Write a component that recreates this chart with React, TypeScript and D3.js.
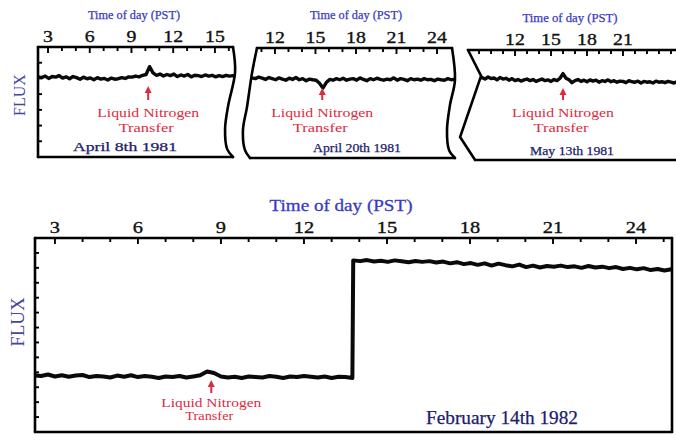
import React from 'react';
import * as d3 from 'd3';

const WIDTH = 676;
const HEIGHT = 441;
const FONT = '"Liberation Serif", "Times New Roman", serif';
const BLUE = '#3a3ac4';
const SLATE = '#45459a';
const NAVY = '#20206a';
const RED = '#dc2a40';

// one reading every quarter hour
const STEP = 0.25;

// April 8th 1981
const april8Start = 2.3;
const april8Flux = [
  5.1, 5.05, 5.15, 5.0, 5.12, 5.08, 5.18, 5.02, 5.1, 4.98,
  5.12, 5.05, 4.95, 5.08, 4.98, 5.03, 4.92, 5.05, 4.96, 5.0,
  4.9, 5.02, 4.95, 4.98, 5.05, 5.0, 5.1, 5.08, 5.15, 5.1,
  5.2, 5.25, 5.75, 5.35, 5.2, 5.28, 5.15, 5.25, 5.18, 5.28,
  5.12, 5.22, 5.15, 5.25, 5.1, 5.2, 5.18, 5.12, 5.22, 5.15,
  5.2, 5.1, 5.18, 5.12, 5.2, 5.15, 5.18, 5.15,
];

// April 20th 1981
const april20Start = 10.3;
const april20Flux = [
  5.1, 5.05, 5.15, 5.08, 5.0, 5.12, 5.05, 4.98, 5.1, 5.02,
  4.95, 5.08, 5.0, 5.12, 4.98, 5.05, 4.92, 5.02, 4.98, 4.95,
  4.75, 4.45, 4.8, 5.0, 4.95, 5.05, 4.98, 5.08, 4.95, 5.02,
  5.05, 4.95, 5.1, 5.0, 4.92, 5.05, 4.98, 5.08, 5.0, 4.95,
  5.02, 4.98, 5.1, 4.95, 5.05, 5.0, 4.92, 5.05, 4.98, 5.02,
  4.95, 5.05, 4.98, 5.0, 4.92, 5.02, 4.98, 4.95, 5.05, 4.98,
  5.0,
];

// May 13th 1981
const may13Start = 9.0;
const may13Flux = [
  5.2, 5.25, 5.15, 5.28, 5.18, 5.22, 5.1, 5.25, 5.15, 5.2,
  5.08, 5.18, 5.05, 5.12, 5.02, 5.1, 5.15, 5.05, 5.12, 5.0,
  5.08, 5.15, 5.05, 5.1, 5.0, 5.12, 5.05, 5.2, 5.5, 5.2,
  5.1, 4.92, 5.05, 5.12, 5.0, 5.08, 4.98, 5.1, 5.02, 5.08,
  4.95, 5.05, 5.0, 5.1, 4.98, 5.05, 4.95, 5.02, 5.0, 4.92,
  5.05, 4.98, 4.95, 5.02, 4.9, 5.0, 4.95, 4.98, 4.9, 5.02,
  4.95, 4.98, 4.92, 5.0, 4.95, 4.9, 4.98,
];

// February 14th 1982 - before and after the jump
const feb14Start = 2.25;
const feb14LowFlux = [
  3.8, 3.75, 3.85, 3.72, 3.8, 3.7, 3.78, 3.82, 3.68, 3.75,
  3.72, 3.65, 3.78, 3.7, 3.8, 3.68, 3.75, 3.7, 3.62, 3.72,
  3.68, 3.75, 3.65, 3.72, 3.8, 4.05, 3.95, 3.72, 3.65, 3.7,
  3.62, 3.72, 3.68, 3.65, 3.75, 3.7, 3.62, 3.72, 3.68, 3.75,
  3.7, 3.65, 3.72, 3.62, 3.7, 3.68, 3.62,
];
const feb14JumpHour = 13.78;
const feb14HighFlux = [
  11.5, 11.45, 11.52, 11.42, 11.48, 11.4, 11.5, 11.44, 11.38, 11.46,
  11.4, 11.45, 11.36, 11.42, 11.3, 11.38, 11.25, 11.32, 11.2, 11.3,
  11.15, 11.28, 11.18, 11.1, 11.22, 11.05, 11.15, 11.02, 11.12, 11.08,
  11.15, 11.05, 11.1, 11.0, 11.12, 11.02, 11.08, 10.98, 11.05, 10.92,
  11.0, 10.9, 10.98, 10.85, 10.92, 10.82, 10.9, 10.85,
];

// labelled hours on each time axis
const april8Hours = [3, 6, 9, 12, 15];
const april20Hours = [12, 15, 18, 21, 24];
const may13Hours = [12, 15, 18, 21];
const feb14Hours = [3, 6, 9, 12, 15, 18, 21, 24];

// hour of the liquid nitrogen transfer
const april8Transfer = 10.2;
const april20Transfer = 15.5;
const may13Transfer = 16.0;
const feb14Transfer = 8.65;

// torn paper edges, [hour, flux] from top to bottom
type Pt = [number, number];
const april8LeftEdge: Pt[] = [[2.28, 7], [2.28, 0]];
const april8RightEdge: Pt[] = [[16.3, 7], [16.45, 5.4], [15.95, 3.25], [15.73, 1.78], [15.88, 0.5], [16.3, 0]];
const april20LeftEdge: Pt[] = [[10.67, 7], [10.3, 5.4], [9.93, 3.25], [9.63, 1.78], [9.78, 0.5], [10.15, 0]];
const april20RightEdge: Pt[] = [[25.11, 7], [25.33, 4.96], [24.96, 3.37], [24.74, 1.78], [24.89, 0.5], [25.33, 0]];
const may13LeftEdge: Pt[] = [[8.08, 7], [9.17, 5.35], [7.42, 1.46], [8.67, 0]];
const may13RightEdge: Pt[] = [[25.7, 7], [25.7, 0]];
const feb14LeftEdge: Pt[] = [[2.28, 13], [2.28, 0]];
const feb14RightEdge: Pt[] = [[25.3, 13], [25.3, 0]];

const series = (start: number, flux: number[]): Pt[] =>
  flux.map((f, i) => [start + i * STEP, f] as Pt);

const panels = [
  {
    id: 'apr8',
    domain: [2.28, 16.3], range: [38, 233], fluxMax: 7, yRange: [157, 47],
    left: april8LeftEdge, right: april8RightEdge, leftCurve: false, rightCurve: true,
    trace: series(april8Start, april8Flux),
    hours: april8Hours, transfer: april8Transfer, arrow: [3.63, 4.52],
    yTicks: [1, 2, 3, 4, 5, 6],
    title: { x: 134, y: 19, len: 92 },
    date: { text: 'April 8th 1981', x: 125, y: 151, len: 104 },
    big: false,
  },
  {
    id: 'apr20',
    domain: [10.67, 25.11], range: [257, 452], fluxMax: 7, yRange: [158, 48],
    left: april20LeftEdge, right: april20RightEdge, leftCurve: true, rightCurve: true,
    trace: series(april20Start, april20Flux),
    hours: april20Hours, transfer: april20Transfer, arrow: [3.69, 4.45],
    yTicks: [] as number[],
    title: { x: 356, y: 19, len: 92 },
    date: { text: 'April 20th 1981', x: 357, y: 152, len: 88 },
    big: false,
  },
  {
    id: 'may13',
    domain: [8.08, 25.42], range: [468, 676], fluxMax: 7, yRange: [160, 50],
    left: may13LeftEdge, right: may13RightEdge, leftCurve: false, rightCurve: false,
    trace: series(may13Start, may13Flux),
    hours: may13Hours, transfer: may13Transfer, arrow: [3.82, 4.58],
    yTicks: [] as number[],
    title: { x: 570, y: 22, len: 95 },
    date: { text: 'May 13th 1981', x: 572, y: 155, len: 84 },
    big: false,
  },
  {
    id: 'feb14',
    domain: [2.28, 25.3], range: [35, 672], fluxMax: 13, yRange: [432, 238],
    left: feb14LeftEdge, right: feb14RightEdge, leftCurve: false, rightCurve: false,
    trace: [...series(feb14Start, feb14LowFlux), ...series(feb14JumpHour, feb14HighFlux)],
    hours: feb14Hours, transfer: feb14Transfer, arrow: [2.61, 3.49],
    yTicks: [1, 2, 3, 4, 5, 6, 7, 8, 9, 10, 11, 12],
    title: { x: 341, y: 211, len: 143 },
    date: { text: 'February 14th 1982', x: 502, y: 424, len: 152 },
    big: true,
  },
];

type PanelDef = (typeof panels)[number];

function Panel({ p }: { p: PanelDef }) {
  const x = d3.scaleLinear().domain(p.domain).range(p.range);
  const y = d3.scaleLinear().domain([0, p.fluxMax]).range(p.yRange);
  const px = (d: Pt) => x(d[0]);
  const py = (d: Pt) => y(d[1]);

  const edgeLine = (curved: boolean) =>
    d3.line<Pt>().x(px).y(py).curve(curved ? d3.curveCatmullRom.alpha(0.5) : d3.curveLinear);

  const outline = [...p.left, ...p.right.slice().reverse()];
  const clip = d3.line<Pt>().x(px).y(py)(outline) + 'Z';
  const top = y(p.fluxMax);
  const bottom = y(0);
  const x0 = x(p.left[0][0]);
  const x1 = x(p.right[0][0]);
  const xb0 = x(p.left[p.left.length - 1][0]);
  const xb1 = x(p.right[p.right.length - 1][0]);

  const trace = d3.line<Pt>().x(px).y(py)(p.trace) || '';

  const hourTicks = d3.range(Math.ceil(p.domain[0]), Math.floor(p.domain[1]) + 1)
    .filter((h) => x(h) > x0 + 3 && x(h) < x1 - 3);

  const tickSize = p.big ? 17 : 16.5;
  const ax = x(p.transfer);
  const aBase = y(p.arrow[0]);
  const aTip = y(p.arrow[1]);
  const lnSize = p.big ? 11.5 : 12;
  const lnGap1 = p.big ? 14 : 17;
  const lnGap2 = p.big ? 27 : 32;

  return (
    <g>
      <defs>
        <clipPath id={`clip-${p.id}`}>
          <path d={clip} />
        </clipPath>
      </defs>

      {/* trace */}
      <path
        d={trace}
        clipPath={`url(#clip-${p.id})`}
        fill="none"
        stroke="#0a0a0a"
        strokeWidth={p.big ? 4 : 3.4}
        strokeLinejoin="round"
      />

      {/* frame */}
      <g fill="none" stroke="#000" strokeWidth={2.6} strokeLinecap="round">
        <line x1={x0} x2={x1} y1={top} y2={top} />
        <line x1={xb0} x2={xb1} y1={bottom} y2={bottom} />
        <path d={edgeLine(p.leftCurve)(p.left) || ''} />
        <path d={edgeLine(p.rightCurve)(p.right) || ''} />
      </g>

      {/* hour ticks */}
      <g stroke="#000" strokeWidth={1.9}>
        {hourTicks.map((h) => (
          <line key={h} x1={x(h)} x2={x(h)} y1={top} y2={top + (p.hours.includes(h) ? 6 : 4)} />
        ))}
        {p.yTicks.map((f) => (
          <line key={'y' + f} x1={x0} x2={x0 + 4} y1={y(f)} y2={y(f)} />
        ))}
      </g>
      {p.hours.map((h) => (
        <text
          key={h}
          x={x(h)}
          y={top - 5}
          textAnchor="middle"
          fontFamily={FONT}
          fontSize={tickSize}
          fill="#111"
          stroke="#111"
          strokeWidth={0.35}
          transform={`translate(${x(h)},0) scale(1.2,1) translate(${-x(h)},0)`}
        >
          {h}
        </text>
      ))}

      <text
        x={p.title.x}
        y={p.title.y}
        textAnchor="middle"
        fontFamily={FONT}
        fontSize={p.big ? 17 : 12}
        fill={BLUE}
        stroke={BLUE}
        strokeWidth={p.big ? 0.3 : 0.25}
        textLength={p.title.len}
        lengthAdjust="spacingAndGlyphs"
      >
        Time of day (PST)
      </text>

      {/* liquid nitrogen transfer */}
      <line x1={ax} x2={ax} y1={aBase} y2={aTip + 5} stroke={RED} strokeWidth={2} />
      <path d={`M${ax},${aTip}L${ax - 3.5},${aTip + 7}L${ax + 3.5},${aTip + 7}Z`} fill={RED} />
      <text x={ax} y={aBase + lnGap1} textAnchor="middle" fontFamily={FONT} fontSize={lnSize} fill={RED}
        textLength={p.big ? 100 : 102} lengthAdjust="spacingAndGlyphs">
        Liquid Nitrogen
      </text>
      <text x={ax - 2} y={aBase + lnGap2} textAnchor="middle" fontFamily={FONT} fontSize={lnSize} fill={RED}
        textLength={p.big ? 48 : 55} lengthAdjust="spacingAndGlyphs">
        Transfer
      </text>

      <text
        x={p.date.x}
        y={p.date.y}
        textAnchor="middle"
        fontFamily={FONT}
        fontSize={p.big ? 18 : 12.5}
        fill={NAVY}
        stroke={NAVY}
        strokeWidth={0.25}
        textLength={p.date.len}
        lengthAdjust="spacingAndGlyphs"
      >
        {p.date.text}
      </text>
    </g>
  );
}

export default function App() {
  return (
    <svg
      width={WIDTH}
      height={HEIGHT}
      style={{ position: 'absolute', left: 0, top: 0, background: '#fff' }}
    >
      {panels.map((p) => (
        <Panel key={p.id} p={p} />
      ))}
      <text
        transform="translate(25,95) rotate(-90)"
        textAnchor="middle"
        fontFamily={FONT}
        fontSize={16}
        fill={SLATE}
      >
        FLUX
      </text>
      <text
        transform="translate(24,322) rotate(-90)"
        textAnchor="middle"
        fontFamily={FONT}
        fontSize={19}
        fill={SLATE}
      >
        FLUX
      </text>
    </svg>
  );
}
